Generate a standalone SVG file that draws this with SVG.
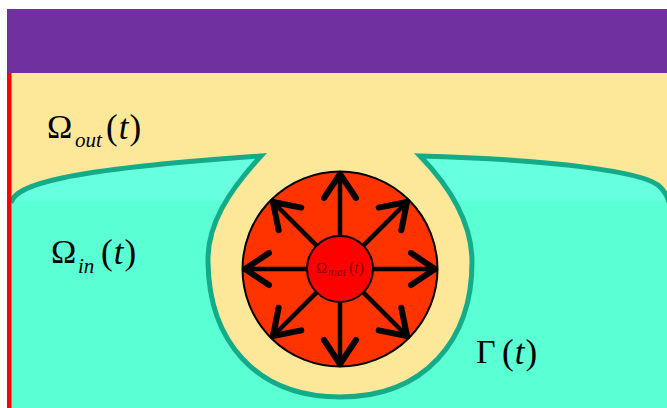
<svg xmlns="http://www.w3.org/2000/svg" width="667" height="408" viewBox="0 0 667 408">
<style>
.lbl{font-family:"Liberation Serif","Times New Roman",serif;fill:#000}
.it{font-style:italic}
.arrow{stroke:#000;stroke-width:4.5;stroke-linecap:round;fill:none;marker-end:url(#head)}
.bound{fill:none;stroke:#14ac88;stroke-width:5;stroke-linejoin:miter;stroke-miterlimit:6}
</style>
<defs>
<linearGradient id="cyan" gradientUnits="userSpaceOnUse" x1="0" y1="150" x2="0" y2="408">
<stop offset="0" stop-color="#66ffe0"/>
<stop offset="0.193" stop-color="#66ffe0"/>
<stop offset="0.2" stop-color="#5affd4"/>
<stop offset="1" stop-color="#5affd4"/>
</linearGradient>
<marker id="head" markerUnits="userSpaceOnUse" orient="auto" markerWidth="40" markerHeight="40" refX="0" refY="0" viewBox="-22 -15 26 30" overflow="visible">
<path d="M-18,-12 L0,0 L-18,12" fill="none" stroke="#000" stroke-width="4.5" stroke-linecap="round" stroke-linejoin="round"/>
</marker>
</defs>
<rect width="667" height="408" fill="#ffffff"/>
<g id="outer-domain">
<rect x="7" y="73" width="660" height="335" fill="#fde899"/>
</g>
<g id="wall">
<rect x="7" y="9" width="660" height="64" fill="#7030a0"/>
</g>
<g id="inner-domain">
<path d="M11,203 C15,185 60,170 261,156 C228,192 207,225 208,262 C209,340 255,397 340,397 C425,397 472,340 472,262 C472,225 453,190 420,156 C560,160 640,172 658,185 C664,190 667,195 667,200 L667,408 L11,408 Z" fill="url(#cyan)"/>
</g>
<g id="interface">
<path class="bound" d="M11,203 C15,185 60,170 261,156 C228,192 207,225 208,262 C209,340 255,397 340,397 C425,397 472,340 472,262 C472,225 453,190 420,156 C560,160 640,172 658,185 C664,190 667,195 669,202"/>
</g>
<g id="left-boundary">
<rect x="7" y="73" width="4.5" height="335" fill="#ff0000"/>
</g>
<g id="material-outer">
<circle cx="340" cy="269" r="97.5" fill="#ff3300" stroke="#000" stroke-width="2"/>
</g>
<g id="connectors">
<line class="arrow" x1="340" y1="236" x2="340" y2="174"/>
<line class="arrow" x1="340" y1="302" x2="340" y2="364"/>
<line class="arrow" x1="307" y1="269" x2="245" y2="269"/>
<line class="arrow" x1="373" y1="269" x2="435" y2="269"/>
<line class="arrow" x1="363.3" y1="245.7" x2="407" y2="202"/>
<line class="arrow" x1="316.7" y1="245.7" x2="273" y2="202"/>
<line class="arrow" x1="363.3" y1="292.3" x2="407" y2="336"/>
<line class="arrow" x1="316.7" y1="292.3" x2="273" y2="336"/>
</g>
<g id="material-inner">
<circle cx="340" cy="269" r="33" fill="#ff0000" stroke="#000" stroke-width="2"/>
<text class="lbl" x="316" y="273" font-size="15" style="fill:#8a0000">Ω<tspan class="it" x="328" y="276" font-size="12">mat</tspan><tspan x="349" y="273" font-size="16">(</tspan><tspan class="it" font-size="16">t</tspan><tspan font-size="16">)</tspan></text>
</g>
<g id="label-out">
<text class="lbl" x="47" y="138" font-size="34">Ω<tspan class="it" x="75" y="147" font-size="21">out</tspan><tspan x="106" y="139" font-size="35">(</tspan><tspan class="it" font-size="35" dx="1">t</tspan><tspan font-size="35" dx="1">)</tspan></text>
</g>
<g id="label-in">
<text class="lbl" x="51" y="263" font-size="34">Ω<tspan class="it" x="78" y="273" font-size="21">in</tspan><tspan x="101" y="264" font-size="35">(</tspan><tspan class="it" font-size="35" dx="1">t</tspan><tspan font-size="35" dx="1">)</tspan></text>
</g>
<g id="label-gamma">
<text class="lbl" x="476" y="363" font-size="34">Γ<tspan x="502" y="364" font-size="35">(</tspan><tspan class="it" font-size="35" dx="1">t</tspan><tspan font-size="35" dx="1">)</tspan></text>
</g>
</svg>
